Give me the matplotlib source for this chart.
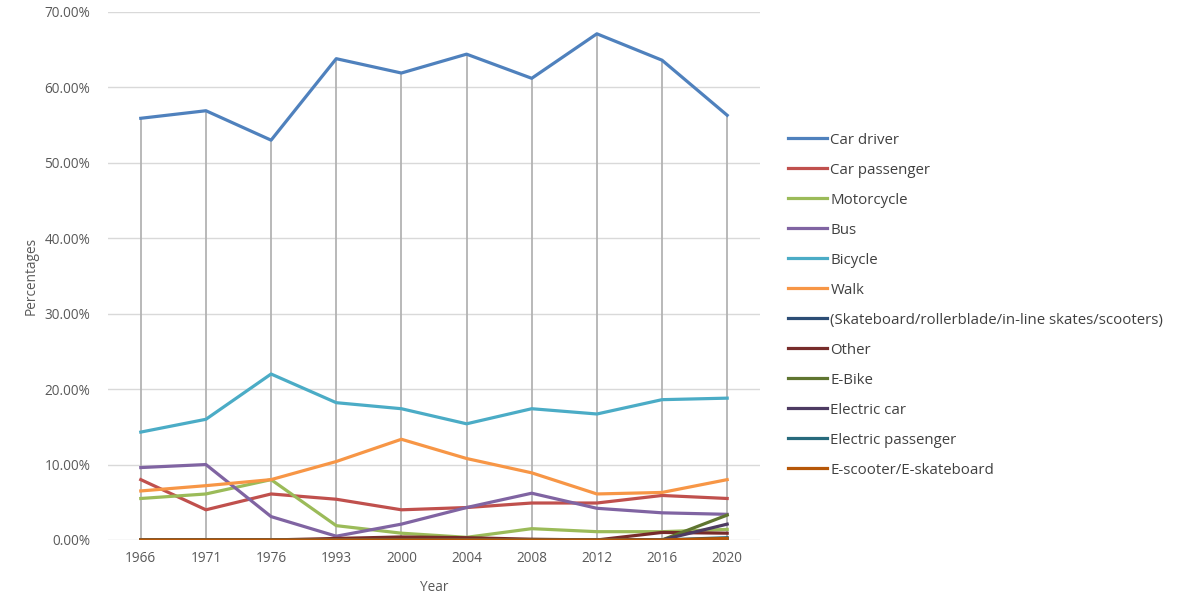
import numpy as np
import matplotlib.pyplot as plt
from matplotlib.ticker import FuncFormatter

plt.rcParams['font.family'] = ['Open Sans', 'DejaVu Sans']

years = ['1966', '1971', '1976', '1993', '2000', '2004', '2008', '2012', '2016', '2020']

car_driver = [55.9, 56.9, 53.0, 63.8, 61.9, 64.4, 61.2, 67.1, 63.6, 56.3]
car_passenger = [8.0, 4.0, 6.1, 5.4, 4.0, 4.3, 4.9, 4.9, 5.9, 5.5]
motorcycle = [5.5, 6.1, 8.0, 1.9, 0.9, 0.35, 1.5, 1.1, 1.1, 1.4]
bus = [9.6, 10.0, 3.1, 0.5, 2.1, 4.3, 6.2, 4.2, 3.6, 3.4]
bicycle = [14.3, 16.0, 22.0, 18.2, 17.4, 15.4, 17.4, 16.7, 18.6, 18.8]
walk = [6.5, 7.2, 8.0, 10.4, 13.35, 10.8, 8.9, 6.1, 6.3, 8.0]
skateboard = [0, 0, 0, 0, 0, 0, 0, 0, 0, 0.1]
other = [0, 0, 0, 0.2, 0.4, 0.3, 0.1, 0, 1.0, 0.9]
e_bike = [0, 0, 0, 0, 0, 0, 0, 0, 0, 3.3]
electric_car = [0, 0, 0, 0, 0, 0, 0, 0, 0, 2.1]
electric_passenger = [0, 0, 0, 0, 0, 0, 0, 0, 0, 0.3]
e_scooter = [0, 0, 0, 0, 0, 0, 0, 0, 0, 0.2]

series = [
    ('Car driver', car_driver, '#4F81BD'),
    ('Car passenger', car_passenger, '#C0504D'),
    ('Motorcycle', motorcycle, '#9BBB59'),
    ('Bus', bus, '#8064A2'),
    ('Bicycle', bicycle, '#4BACC6'),
    ('Walk', walk, '#F79646'),
    ('(Skateboard/rollerblade/in-line skates/scooters)', skateboard, '#2C4D75'),
    ('Other', other, '#772C2A'),
    ('E-Bike', e_bike, '#5F7530'),
    ('Electric car', electric_car, '#4D3B62'),
    ('Electric passenger', electric_passenger, '#276A7C'),
    ('E-scooter/E-skateboard', e_scooter, '#B65708'),
]

fig = plt.figure(figsize=(11.89, 5.96), dpi=100)
ax = fig.add_axes([0.091, 0.094, 0.548, 0.886])

x = np.arange(len(years))

# drop lines from the highest series down to zero
top = np.max([s[1] for s in series], axis=0)
ax.vlines(x, 0, top, color='#B3B3B3', lw=1.3, zorder=1)

for name, vals, col in series:
    ax.plot(x, vals, color=col, lw=2.3, label=name, zorder=3,
            solid_joinstyle='round')

ax.set_xlim(-0.5, len(years) - 0.5)
ax.set_ylim(0, 70)
ax.set_yticks(np.arange(0, 71, 10))
ax.yaxis.set_major_formatter(FuncFormatter(lambda v, p: f'{v:.2f}%'))
ax.set_xticks(x)
ax.set_xticklabels(years)
ax.grid(axis='y', color='#D9D9D9', lw=1)
ax.set_axisbelow(True)
for s in ax.spines.values():
    s.set_visible(False)
ax.tick_params(length=0, labelsize=9.8, labelcolor='#595959', pad=8)
ax.tick_params(axis='y', pad=13)
ax.set_xlabel('Year', fontsize=9.8, color='#595959', labelpad=10)
ax.set_ylabel('Percentages', fontsize=9.8, color='#595959', labelpad=4)

fig.legend(loc='center left', bbox_to_anchor=(0.663, 0.488), frameon=False,
           fontsize=10.8, handlelength=2.6, handletextpad=0.2,
           labelspacing=1.0, borderpad=0, borderaxespad=0,
           labelcolor='#404040')

fig.savefig('out.png', dpi=100)
